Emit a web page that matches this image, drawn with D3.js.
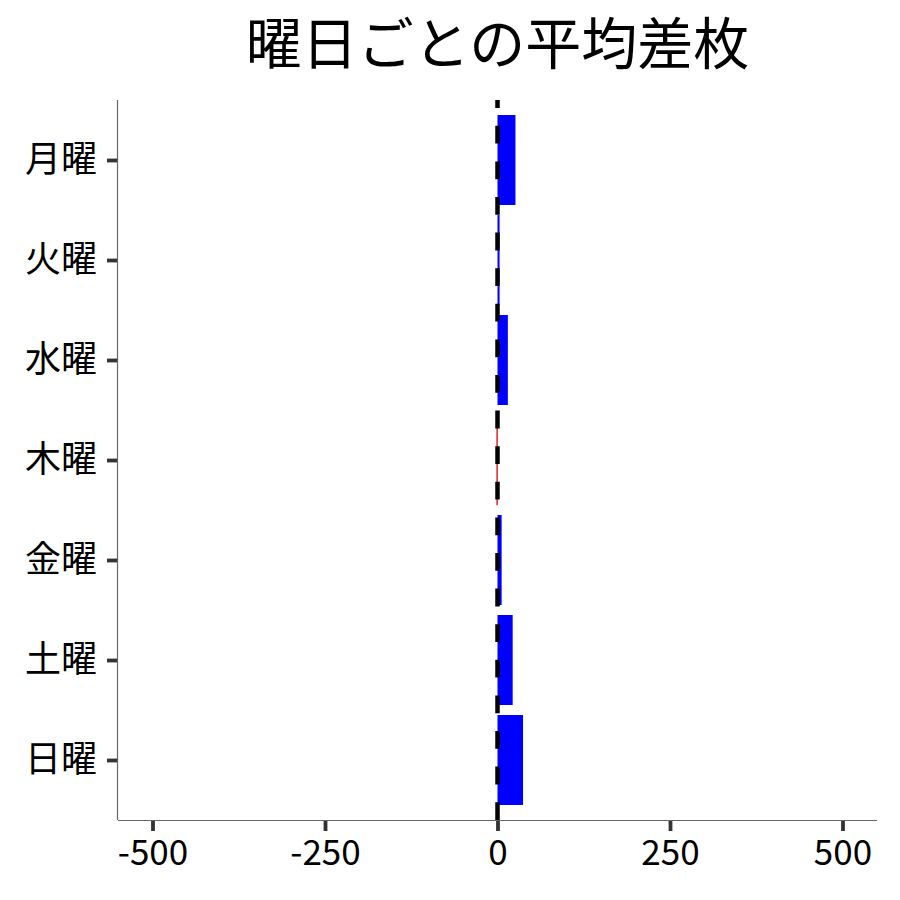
<!DOCTYPE html>
<html>
<head>
<meta charset="utf-8">
<script src="https://cdn.jsdelivr.net/npm/d3@7"></script>
<style>
  html, body { margin: 0; padding: 0; background: #fff; }
  svg { display: block; }
  text { font-family: "Noto Sans CJK JP", "Noto Sans", sans-serif; }
</style>
</head>
<body>
<svg id="chart" width="900" height="900"></svg>
<script>
const days = ["月曜", "火曜", "水曜", "木曜", "金曜", "土曜", "日曜"];
const avgDiff = [26, 3, 15, -1, 6, 22, 37];
const xTicks = [-500, -250, 0, 250, 500];
const titleText = "曜日ごとの平均差枚";

const W = 900, H = 900;
const margin = { top: 100, right: 23, bottom: 80, left: 118 };
const svg = d3.select("#chart");

const x = d3.scaleLinear().domain([-550, 550]).range([margin.left, W - margin.right]);
const y = d3.scalePoint().domain(days).range([margin.top, H - margin.bottom]).padding(0.6);
const barH = y.step() * 0.9;

// bars
svg.append("g").selectAll("rect").data(days).join("rect")
  .attr("x", (d, i) => Math.min(x(0), x(avgDiff[i])))
  .attr("y", d => y(d) - barH / 2)
  .attr("width", (d, i) => Math.abs(x(avgDiff[i]) - x(0)))
  .attr("height", barH)
  .attr("fill", (d, i) => avgDiff[i] >= 0 ? "#0000ff" : "#ff0000")
  .attr("stroke", (d, i) => avgDiff[i] >= 0 ? "none" : "#cc0000")
  .attr("stroke-width", 0.5);

// zero line
svg.append("line")
  .attr("x1", x(0)).attr("x2", x(0))
  .attr("y1", H - margin.bottom).attr("y2", margin.top)
  .attr("stroke", "#000").attr("stroke-width", 4.5)
  .attr("stroke-dasharray", "17.8,17.8");

// x axis
const xAxis = svg.append("g")
  .attr("transform", `translate(0,${H - margin.bottom})`)
  .call(d3.axisBottom(x).tickValues(xTicks).tickSize(11).tickPadding(8).tickFormat(d3.format("d")));
xAxis.select(".domain").attr("stroke", "#666").attr("stroke-width", 1.2).attr("d", `M${margin.left},0.5H${W - margin.right}`);
xAxis.selectAll(".tick line").attr("stroke", "#333").attr("stroke-width", 3.8).attr("y1", 1);
xAxis.selectAll(".tick text").attr("fill", "#000").attr("font-size", 35).attr("dy", "0.75em")
  .text(d => d < 0 ? "-" + Math.abs(d) : d);

// y axis
const yAxis = svg.append("g")
  .attr("transform", `translate(${margin.left},0)`)
  .call(d3.axisLeft(y).tickSize(11).tickPadding(10));
yAxis.select(".domain").attr("stroke", "#666").attr("stroke-width", 1.2).attr("d", `M-0.5,${margin.top}V${H - margin.bottom}`);
yAxis.selectAll(".tick line").attr("stroke", "#333").attr("stroke-width", 3.8).attr("x2", -11).attr("x1", -1);
yAxis.selectAll(".tick text").attr("fill", "#000").attr("font-size", 36);

// title
svg.append("text")
  .attr("x", (margin.left + W - margin.right) / 2)
  .attr("y", 64)
  .attr("text-anchor", "middle")
  .attr("font-size", 56)
  .attr("fill", "#000")
  .text(titleText);
</script>
</body>
</html>
